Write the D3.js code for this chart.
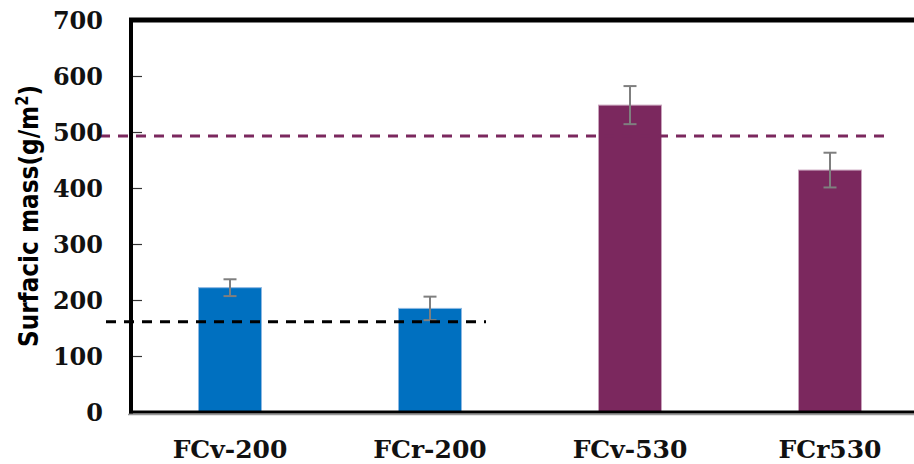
<!DOCTYPE html>
<html>
<head>
<meta charset="utf-8">
<script src="https://cdn.jsdelivr.net/npm/d3@7"></script>
<style>
  html, body { margin: 0; padding: 0; background: #fff; }
  svg { display: block; }
</style>
</head>
<body>
<div id="chart"></div>
<script>
// Surfacic mass of the four fabrics, mean with standard deviation
const categories = ["FCv-200", "FCr-200", "FCv-530", "FCr530"];
const means = [222, 185, 548, 432];
const errors = [15, 21, 34, 31];
const groups = ["200", "200", "530", "530"];
const yTicks = [0, 100, 200, 300, 400, 500, 600, 700];
// nominal surfacic mass of each group, drawn as dashed reference lines
const targetGroups = ["200", "530"];
const targetValues = [161, 493];
const targetLastCategory = ["FCr-200", "FCr530"];

const W = 914, H = 464;
const margin = { top: 20, right: -16, bottom: 52, left: 130 };

const color = d3.scaleOrdinal().domain(["200", "530"]).range(["#0070C0", "#7B285E"]);
const edge = d3.scaleOrdinal().domain(["200", "530"]).range(["#8DB8E2", "#C9A3BC"]);

const svg = d3.select("#chart").append("svg").attr("width", W).attr("height", H);

const x = d3.scaleBand().domain(categories)
  .range([margin.left, W - margin.right]).paddingInner(0.685).paddingOuter(0.3425);
const y = d3.scaleLinear().domain([0, 700]).range([H - margin.bottom, margin.top]);

// bars
svg.append("g").selectAll("rect").data(categories).join("rect")
  .attr("x", d => x(d))
  .attr("y", (d, i) => y(means[i]))
  .attr("width", x.bandwidth())
  .attr("height", (d, i) => y(0) - y(means[i]))
  .attr("fill", (d, i) => color(groups[i]))
  .attr("stroke", (d, i) => edge(groups[i]))
  .attr("stroke-width", 1);

// error bars
const eb = svg.append("g").attr("stroke", "#7F7F7F").attr("stroke-width", 2);
categories.forEach((c, i) => {
  const cx = x(c) + x.bandwidth() / 2;
  eb.append("line").attr("x1", cx).attr("x2", cx)
    .attr("y1", y(means[i] + errors[i])).attr("y2", y(means[i] - errors[i]));
  [means[i] + errors[i], means[i] - errors[i]].forEach(v => {
    eb.append("line").attr("x1", cx - 6.5).attr("x2", cx + 6.5)
      .attr("y1", y(v)).attr("y2", y(v));
  });
});

// dashed reference lines
targetGroups.forEach((g, i) => {
  const last = targetLastCategory[i];
  svg.append("line")
    .attr("x1", margin.left - (g === "200" ? 24 : 30))
    .attr("x2", x(last) + x.bandwidth() / 2 + (g === "200" ? 56 : 60))
    .attr("y1", y(targetValues[i])).attr("y2", y(targetValues[i]))
    .attr("stroke", g === "200" ? "#000" : color(g))
    .attr("stroke-width", 3)
    .attr("stroke-dasharray", "10,8");
});

// frame: top border, left axis, bottom axis
svg.append("line").attr("x1", margin.left - 1).attr("x2", W)
  .attr("y1", y(700)).attr("y2", y(700)).attr("stroke", "#000").attr("stroke-width", 5);
svg.append("line").attr("x1", margin.left - 2).attr("x2", W)
  .attr("y1", y(0) + 2.5).attr("y2", y(0) + 2.5).attr("stroke", "#999").attr("stroke-width", 1.5);
svg.append("line").attr("x1", margin.left - 1).attr("x2", W)
  .attr("y1", y(0)).attr("y2", y(0)).attr("stroke", "#000").attr("stroke-width", 3);
svg.append("line").attr("x1", margin.left + 1).attr("x2", margin.left + 1)
  .attr("y1", y(700) - 2).attr("y2", y(0) + 1.5).attr("stroke", "#000").attr("stroke-width", 4);

// y axis: inner ticks and labels
const yAxis = d3.axisRight(y).tickValues(yTicks).tickSize(9).tickFormat("");
const ya = svg.append("g").attr("transform", `translate(${margin.left + 3},0)`).call(yAxis);
ya.select(".domain").remove();
ya.selectAll(".tick line").attr("stroke", "#333").attr("stroke-width", 1.2)
  .filter(d => d === 0 || d === 700).remove();

svg.append("g").selectAll("text").data(yTicks).join("text")
  .attr("x", margin.left - 27)
  .attr("y", d => y(d))
  .attr("dy", "0.36em")
  .attr("text-anchor", "end")
  .attr("font-family", "DejaVu Serif")
  .attr("font-weight", "bold")
  .attr("font-size", 24)
  .attr("fill", "#111")
  .text(d => d);

// category labels
svg.append("g").selectAll("text").data(categories).join("text")
  .attr("x", d => x(d) + x.bandwidth() / 2)
  .attr("y", 458)
  .attr("text-anchor", "middle")
  .attr("font-family", "DejaVu Serif")
  .attr("font-weight", "bold")
  .attr("font-size", 25)
  .attr("fill", "#111")
  .text(d => d);

// y axis title, condensed along its reading direction
const yt = svg.append("text")
  .attr("transform", "translate(38,216) rotate(-90) scale(0.86,1)")
  .attr("text-anchor", "middle")
  .attr("font-family", "DejaVu Sans")
  .attr("font-weight", "bold")
  .attr("font-size", 27)
  .attr("fill", "#000");
yt.append("tspan").text("Surfacic mass(g/m");
yt.append("tspan").attr("font-size", 17).attr("dy", -10).text("2");
yt.append("tspan").attr("dy", 10).text(")");
</script>
</body>
</html>
